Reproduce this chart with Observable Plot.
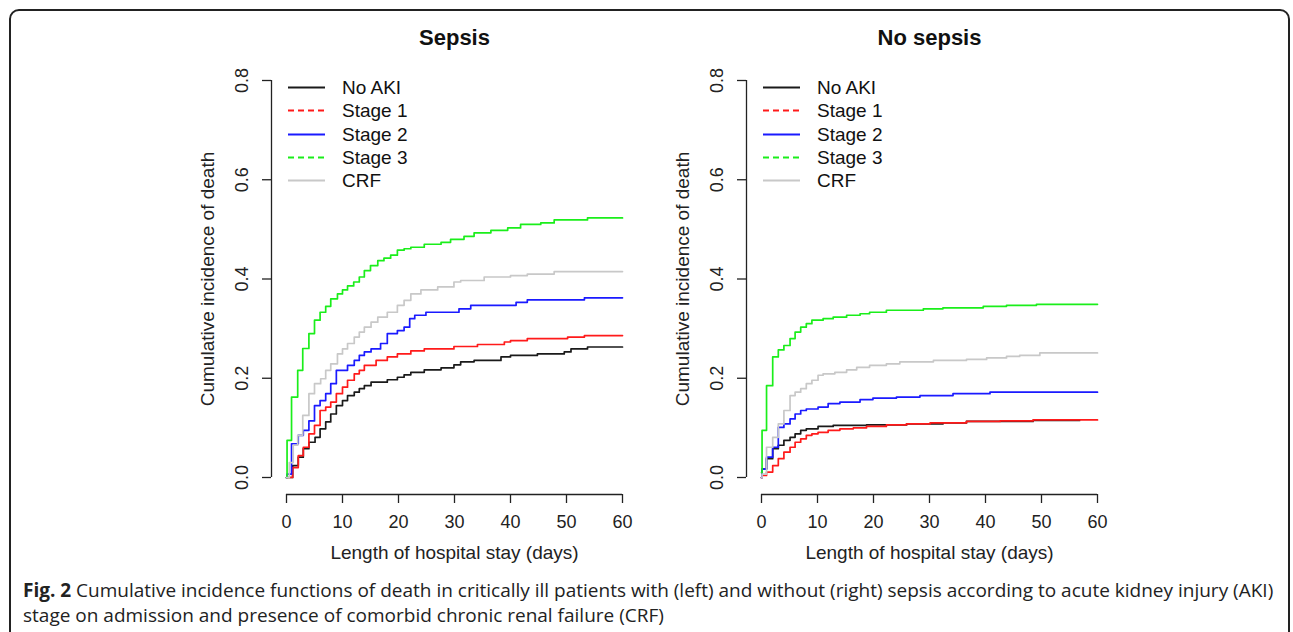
<!DOCTYPE html>
<html>
<head>
<meta charset="utf-8">
<script src="https://cdn.jsdelivr.net/npm/d3@7"></script>
<script src="https://cdn.jsdelivr.net/npm/@observablehq/plot@0.6"></script>
<style>
  html, body { margin: 0; padding: 0; background: #fff; }
  body { width: 1293px; height: 632px; position: relative; overflow: hidden; font-family: "Liberation Sans", Arial, sans-serif; }
  #box { position: absolute; left: 9px; top: 9px; width: 1281px; height: 700px; border: 2px solid #222; border-radius: 10px; box-sizing: border-box; }
  .panel { position: absolute; top: 0; }
  .legend { position: absolute; font-size: 19px; color: #111; }
  .legend .row { position: absolute; height: 23px; white-space: nowrap; }
  .legend svg { position: absolute; left: 0; top: 0; }
  .legend span { position: absolute; top: 0; line-height: 23px; }
  #caption { position: absolute; left: 23px; top: 578px; width: 1267px; font-family: "Open Sans", sans-serif; font-size: 19px; line-height: 25px; color: #222; }
  #caption b { font-weight: 700; }
</style>
</head>
<body>
<div id="box"></div>
<div id="left" class="panel" style="left:150px"></div>
<div id="right" class="panel" style="left:625px"></div>
<div id="legL" class="legend" style="left:288px; top:76px"></div>
<div id="legR" class="legend" style="left:763px; top:76px"></div>
<div id="caption"><b>Fig. 2</b> Cumulative incidence functions of death in critically ill patients with (left) and without (right) sepsis according to acute kidney injury (AKI) stage on admission and presence of comorbid chronic renal failure (CRF)</div>
<script>
// ---------- data ----------
const groups = ["No AKI", "Stage 1", "Stage 2", "Stage 3", "CRF"];
const colors = ["#1a1a1a", "#ff1a1a", "#1a1aff", "#1aee1a", "#c8c8c8"];
const legendDash = [null, "6,4", null, "6,4", null];
const panelTitles = ["Sepsis", "No sepsis"];
const xTicks = [0, 10, 20, 30, 40, 50, 60];
const yTicks = [0.0, 0.2, 0.4, 0.6, 0.8];
const xLabel = "Length of hospital stay (days)";
const yLabel = "Cumulative incidence of death";

// Sepsis panel: [day, cumulative incidence]
const sepsisNoAKI = [[0,0],[1.1,0.024],[2.1,0.041],[3,0.058],[4,0.071],[5.1,0.081],[6,0.098],[7,0.112],[7.9,0.128],[8.9,0.145],[10,0.155],[10.9,0.165],[12.1,0.172],[13,0.179],[13.9,0.185],[15.1,0.192],[18,0.197],[19.8,0.202],[21,0.207],[22.2,0.212],[24.6,0.217],[27.6,0.221],[29.9,0.227],[31.1,0.233],[33.5,0.236],[38.3,0.243],[40,0.246],[44.8,0.249],[49.6,0.253],[50.8,0.259],[53.75,0.263],[60,0.263]];
const sepsisStage1 = [[0,0],[1.1,0.02],[2.1,0.044],[3,0.061],[4,0.088],[5,0.105],[6,0.135],[7,0.142],[7.9,0.152],[8.9,0.169],[10,0.182],[10.9,0.196],[12.1,0.209],[13,0.216],[13.9,0.226],[16,0.236],[18,0.243],[19.8,0.249],[22.2,0.255],[24.6,0.259],[29.9,0.264],[34.1,0.268],[38.9,0.273],[40,0.276],[43,0.28],[50.2,0.283],[53.2,0.286],[60,0.286]];
const sepsisStage2 = [[0,0],[0.1,0.007],[0.9,0.068],[2.1,0.085],[3,0.095],[4,0.114],[5,0.145],[6,0.155],[7,0.169],[7.9,0.189],[8.9,0.216],[10.9,0.226],[12.1,0.236],[13,0.246],[13.9,0.253],[15.1,0.259],[16.8,0.27],[18,0.29],[19.8,0.296],[21,0.303],[22,0.32],[22.9,0.327],[24.9,0.333],[30.8,0.34],[32.9,0.347],[41,0.353],[43,0.358],[53.2,0.362],[60,0.362]];
const sepsisStage3 = [[0,0],[0.1,0.075],[0.9,0.162],[2,0.216],[2.9,0.26],[4,0.29],[5,0.317],[6,0.333],[7,0.345],[7.9,0.36],[9.1,0.37],[10,0.378],[10.9,0.386],[12,0.394],[13,0.404],[13.9,0.417],[15,0.427],[16.3,0.437],[17.4,0.442],[18.6,0.448],[19.8,0.458],[21,0.461],[22.2,0.464],[24.6,0.47],[27.6,0.474],[29.3,0.48],[31.7,0.486],[33.5,0.493],[36.5,0.498],[39.5,0.503],[41.8,0.51],[45.4,0.513],[47.8,0.519],[53.75,0.523],[60,0.523]];
const sepsisCRF = [[0,0],[0.5,0.03],[1.2,0.065],[2,0.085],[2.9,0.125],[4,0.169],[5,0.189],[6.1,0.199],[7,0.216],[7.9,0.229],[9.1,0.249],[10,0.259],[10.9,0.27],[12.1,0.283],[13,0.293],[13.9,0.303],[15.1,0.313],[16.3,0.323],[18,0.333],[19.8,0.347],[21,0.357],[22.2,0.37],[24,0.378],[27,0.384],[29.9,0.394],[31.1,0.397],[35.3,0.404],[40,0.407],[43,0.41],[47.8,0.415],[60,0.415]];

// No sepsis panel
const noSepsisNoAKI = [[0,0],[0.1,0.017],[0.9,0.038],[2,0.058],[3,0.065],[4,0.075],[5.1,0.081],[6,0.088],[7,0.095],[8,0.098],[10.1,0.103],[12.8,0.105],[18.75,0.106],[25.9,0.108],[32.4,0.11],[36.6,0.113],[48.5,0.115],[56.8,0.115]];
const noSepsisStage1 = [[0,0],[0.1,0.004],[0.9,0.011],[2,0.024],[3,0.038],[4,0.051],[5.1,0.061],[6,0.071],[7,0.078],[8,0.085],[9,0.088],[10.1,0.091],[11.9,0.095],[14,0.098],[16.4,0.1],[18.75,0.103],[22.3,0.106],[25.9,0.108],[30.1,0.11],[36.6,0.113],[42.6,0.114],[48.5,0.116],[60,0.116]];
const noSepsisStage2 = [[0,0],[0.1,0.017],[0.9,0.041],[2,0.061],[3,0.101],[4,0.108],[5.1,0.118],[6,0.128],[7,0.135],[8,0.138],[10.1,0.142],[11.9,0.149],[14,0.152],[17.6,0.157],[19.9,0.16],[24.1,0.162],[28.3,0.165],[34.2,0.169],[40.8,0.172],[60,0.172]];
const noSepsisStage3 = [[0,0.01],[0.1,0.095],[0.9,0.185],[2,0.243],[3,0.257],[4,0.266],[5.1,0.28],[6,0.293],[7,0.303],[8,0.31],[9,0.317],[11,0.32],[12.8,0.323],[15.2,0.327],[17.6,0.33],[19.3,0.333],[22.3,0.337],[28.9,0.34],[32.4,0.342],[39.6,0.345],[43.75,0.347],[49.1,0.349],[60,0.349]];
const noSepsisCRF = [[0,0],[0.1,0.007],[0.9,0.061],[2,0.081],[3,0.108],[4,0.135],[5.1,0.165],[6,0.172],[7,0.179],[8,0.189],[9,0.196],[10.1,0.206],[11,0.209],[13.1,0.212],[15.2,0.217],[17,0.222],[19.3,0.226],[22.3,0.229],[24.7,0.233],[30.7,0.236],[36.6,0.238],[40.2,0.241],[43.75,0.244],[46.1,0.246],[49.7,0.251],[60,0.251]];

const panels = [
  [sepsisNoAKI, sepsisStage1, sepsisStage2, sepsisStage3, sepsisCRF],
  [noSepsisNoAKI, noSepsisStage1, noSepsisStage2, noSepsisStage3, noSepsisCRF]
];

// ---------- drawing ----------
const INK = "#222";
function panel(series, title) {
  const axisX0 = xTicks[0], axisX1 = xTicks[xTicks.length - 1];
  const axisY0 = yTicks[0], axisY1 = yTicks[yTicks.length - 1];
  return Plot.plot({
    width: 500, height: 570,
    marginLeft: 121, marginRight: 28, marginTop: 80, marginBottom: 76,
    style: {fontFamily: "'Liberation Sans', Arial, sans-serif", background: "transparent", overflow: "visible"},
    x: {domain: [axisX0, axisX1], insetLeft: 15, axis: null},
    y: {domain: [axisY0, axisY1], insetBottom: 17, axis: null},
    marks: [
      // curves
      ...series.map((s, gi) => Plot.line(s, {x: d => d[0], y: d => d[1], stroke: colors[gi], strokeWidth: 1.7, curve: "step-after"})),
      // y axis (R style, offset from the data region)
      Plot.ruleX([axisX0], {y1: axisY0, y2: axisY1, dx: -15, stroke: INK, strokeWidth: 1.3}),
      Plot.axisY({ticks: yTicks, tickSize: 9, tickFormat: () => "", stroke: INK, strokeWidth: 1.3, strokeOpacity: 1}),
      Plot.text(yTicks, {y: d => d, text: d => d.toFixed(1), frameAnchor: "left", dx: -29, rotate: -90, textAnchor: "middle", lineAnchor: "middle", fontSize: 18, fill: INK}),
      Plot.text([yLabel], {y: (axisY0 + axisY1) / 2, text: d => d, frameAnchor: "left", dx: -64, rotate: -90, textAnchor: "middle", lineAnchor: "middle", fontSize: 19, fill: INK}),
      // x axis
      Plot.ruleY([axisY0], {x1: axisX0, x2: axisX1, dy: 17, stroke: INK, strokeWidth: 1.3}),
      Plot.axisX({ticks: xTicks, tickSize: 9, tickFormat: () => "", stroke: INK, strokeWidth: 1.3, strokeOpacity: 1}),
      Plot.text(xTicks, {x: d => d, text: d => String(d), frameAnchor: "bottom", dy: 28, lineAnchor: "middle", fontSize: 18, fill: INK}),
      Plot.text([xLabel], {x: (axisX0 + axisX1) / 2, text: d => d, frameAnchor: "bottom", dy: 58, lineAnchor: "middle", fontSize: 19, fill: INK}),
      // title
      Plot.text([title], {x: (axisX0 + axisX1) / 2, text: d => d, frameAnchor: "top", dy: -43, lineAnchor: "middle", fontSize: 22, fontWeight: "bold", fill: "#111"})
    ]
  });
}

function legend(el) {
  groups.forEach((g, i) => {
    const row = document.createElement("div");
    row.className = "row";
    row.style.top = (i * 23.3) + "px";
    row.innerHTML = `<svg width="40" height="23"><line x1="0" x2="37" y1="11.5" y2="11.5" stroke="${colors[i]}" stroke-width="1.8" ${legendDash[i] ? `stroke-dasharray="${legendDash[i]}"` : ""}/></svg><span style="left:54px">${g}</span>`;
    el.appendChild(row);
  });
}

document.getElementById("left").appendChild(panel(panels[0], panelTitles[0]));
document.getElementById("right").appendChild(panel(panels[1], panelTitles[1]));
legend(document.getElementById("legL"));
legend(document.getElementById("legR"));
</script>
</body>
</html>
